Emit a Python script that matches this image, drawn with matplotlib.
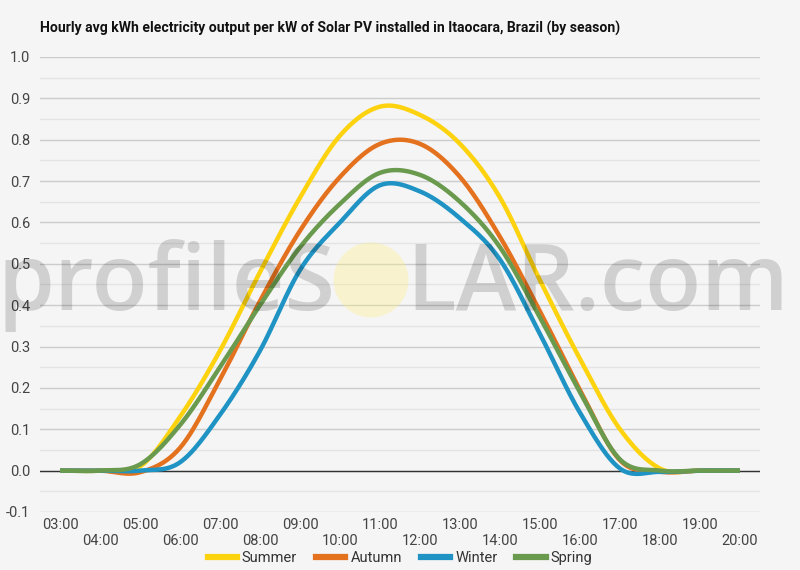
import numpy as np
import matplotlib
matplotlib.use("Agg")
import matplotlib.pyplot as plt
from matplotlib.patches import Ellipse
from matplotlib.lines import Line2D

plt.rcParams['font.family'] = ['Roboto', 'DejaVu Sans']

hours = list(range(3, 21))
hour_labels = [f"{h:02d}:00" for h in hours]

summer = [0, 0, 0.01, 0.13, 0.29, 0.48, 0.66, 0.81, 0.88, 0.86, 0.79, 0.66, 0.46, 0.27, 0.10, 0.005, 0, 0]
autumn = [0, 0, -0.004, 0.055, 0.22, 0.41, 0.58, 0.71, 0.79, 0.79, 0.71, 0.565, 0.385, 0.195, 0.025, -0.003, 0, 0]
winter = [0, 0, 0, 0.02, 0.135, 0.29, 0.485, 0.60, 0.69, 0.675, 0.61, 0.51, 0.33, 0.14, 0.005, -0.003, 0, 0]
spring = [0, 0, 0.015, 0.11, 0.25, 0.40, 0.54, 0.645, 0.72, 0.715, 0.65, 0.54, 0.37, 0.19, 0.027, 0, 0, 0]

seasons = ["Summer", "Autumn", "Winter", "Spring"]
colors = ["#fdd20e", "#e4711e", "#1f93c4", "#6a9a4e"]

title = "Hourly avg kWh electricity output per kW of Solar PV installed in Itaocara, Brazil (by season)"


def smooth(x, y, n=24):
    # catmull-rom through the hourly points, only to draw a curved line
    x = np.asarray(x, float)
    y = np.asarray(y, float)
    py = np.concatenate([[y[0]], y, [y[-1]]])
    t = np.linspace(0, 1, n, endpoint=False)
    xs, ys = [], []
    for i in range(len(x) - 1):
        p0, p1, p2, p3 = py[i:i + 4]
        xs.append(x[i] + (x[i + 1] - x[i]) * t)
        ys.append(0.5 * (2 * p1 + (p2 - p0) * t + (2 * p0 - 5 * p1 + 4 * p2 - p3) * t ** 2
                         + (3 * p1 - p0 - 3 * p2 + p3) * t ** 3))
    xs.append([x[-1]])
    ys.append([y[-1]])
    return np.concatenate(xs), np.concatenate(ys)


fig = plt.figure(figsize=(8, 5.7), dpi=100, facecolor="#f5f5f5")
ax = fig.add_axes([0.05, 0.1018, 0.9, 0.7982])
ax.set_facecolor("#f5f5f5")

for vals, col in zip([summer, autumn, winter, spring], colors):
    sx, sy = smooth(hours, vals)
    ax.plot(sx, sy, color=col, lw=3.2, solid_capstyle="butt", zorder=3)

ax.set_xlim(2.5, 20.5)
ax.set_ylim(-0.1, 1.0)
ax.set_yticks(np.arange(-0.1, 1.01, 0.1))
ax.set_yticks(np.arange(-0.05, 1.0, 0.1), minor=True)
ax.set_yticklabels([f"{v:.1f}" for v in np.arange(-0.1, 1.01, 0.1)])
ax.grid(axis="y", which="major", color="#cccccc", lw=1)
ax.grid(axis="y", which="minor", color="#e4e4e4", lw=1)
ax.axhline(0, color="#333333", lw=1, zorder=2)
ax.set_axisbelow(True)
for s in ax.spines.values():
    s.set_visible(False)

ax.set_xticks(hours)
ax.set_xticklabels([lab if i % 2 == 0 else "\n" + lab for i, lab in enumerate(hour_labels)])
ax.tick_params(axis="both", which="both", length=0, labelsize=10.5, labelcolor="#444444")
ax.tick_params(axis="x", pad=4)
ax.tick_params(axis="y", pad=7)

fig.text(40 / 800, 1 - 28 / 570, title, fontsize=10.05, fontweight="bold", color="#111111", va="center")

handles = [Line2D([], [], color=c, lw=4.5) for c in colors]
fig.legend(handles, seasons, loc="center", bbox_to_anchor=(0.5, 1 - 558 / 570), ncol=4, frameon=False,
           fontsize=10.5, handlelength=2.0, handletextpad=0.35, columnspacing=1.3, labelcolor="#333333")

# watermark
wm = dict(fontsize=66, color="black", alpha=0.15, family="Open Sans", fontweight="semibold",
          va="baseline", zorder=10)
fig.text(335 / 800, 1 - 310 / 570, "profileS", ha="right", **wm)
fig.text(406 / 800, 1 - 310 / 570, "LAR.com", ha="left", **wm)
fig.add_artist(Ellipse((371 / 800, 1 - 280 / 570), 75 / 800, 75 / 570, transform=fig.transFigure,
                       facecolor="#fff176", alpha=0.3, edgecolor="none", zorder=10))

fig.savefig("out.png", dpi=100, facecolor=fig.get_facecolor())
